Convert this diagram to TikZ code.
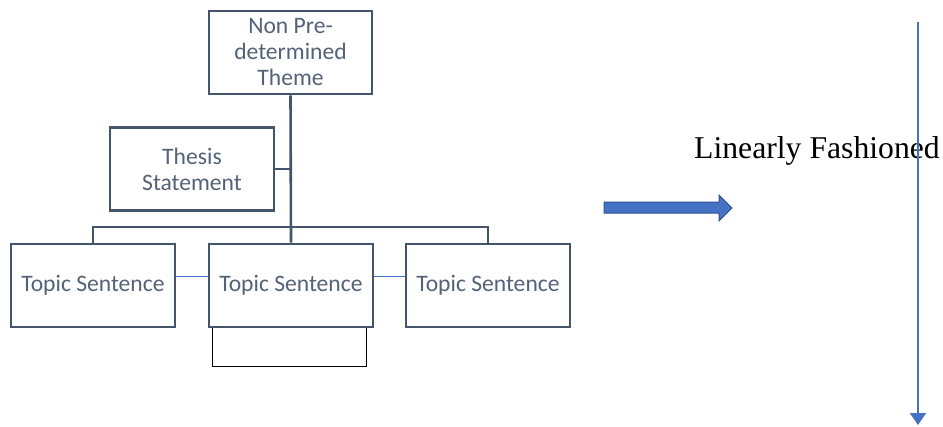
\documentclass[tikz,border=0pt]{standalone}
\usepackage{fontspec}
\usepackage{tikz}
\usepackage{xcolor}
\usetikzlibrary{arrows.meta}
\setmainfont{Liberation Serif}
\newfontfamily\boxfont{Carlito}
\definecolor{slate}{RGB}{68,84,106}
\definecolor{slatetext}{RGB}{84,98,120}
\definecolor{flowblue}{RGB}{68,114,196}
\definecolor{flowedge}{RGB}{47,82,143}

\begin{document}
\begin{tikzpicture}[x=1pt, y=-1pt,
    box/.style={draw=slate, line width=2.6pt, fill=white, inner sep=0pt,
      minimum width=164pt, minimum height=83pt, align=center,
      text=slatetext, font=\boxfont\fontsize{23.6}{26}\selectfont},
    trunk/.style={draw=slate, line width=2.6pt},
    link/.style={draw=flowblue, line width=1pt}]
  \useasboundingbox (0,0) rectangle (943,426);
  % Left: tree of boxes
  \node[box, minimum width=163pt] (theme) at (290.5,52.5) {Non Pre-\\determined\\Theme};
  \node[box] (thesis) at (192,169) {Thesis\\Statement};
  \node[draw=black, line width=1pt, minimum width=154pt, minimum height=39pt] (blank) at (289,346.5) {};
  \node[box] (left) at (93,285.5) {Topic Sentence};
  \node[box] (mid) at (291,285.5) {Topic Sentence};
  \node[box] (right) at (488,285.5) {Topic Sentence};
  \draw[trunk] (theme.south) -- (mid.north);
  \draw[trunk] (thesis.east) -- (thesis.east -| theme.south);
  \draw[trunk] (left.north) |- (mid.north |- 0,227) -| (right.north);
  \draw[link] ([yshift=9pt]left.east) -- ([yshift=9pt]mid.west);
  \draw[link] ([yshift=9pt]mid.east) -- ([yshift=9pt]right.west);
  % Middle: block arrow
  \filldraw[fill=flowblue, draw=flowedge, line width=1pt]
    (604,202) -- (719,202) -- (719,195) -- (732,208) -- (719,221)
    -- (719,213) -- (604,213) -- cycle;
  % Right: label and downward line
  \node[anchor=base, font=\fontsize{31.7}{36}\selectfont] (label) at (817,158) {Linearly Fashioned};
  \coordinate (top) at (918,22);
  \coordinate (bottom) at (918,425);
  \draw[flowblue, line width=2pt, -{Triangle[width=16pt, length=12pt]}] (top) -- (bottom);
\end{tikzpicture}
\end{document}
